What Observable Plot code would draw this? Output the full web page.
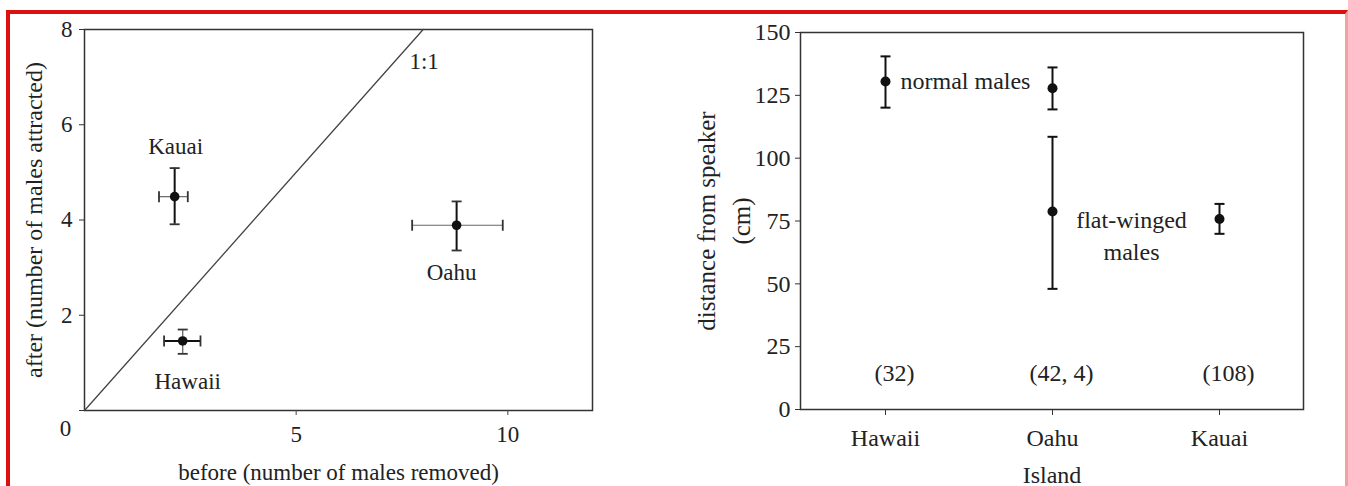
<!DOCTYPE html>
<html><head><meta charset="utf-8">
<script src="https://cdn.jsdelivr.net/npm/d3@7"></script>
<script src="https://cdn.jsdelivr.net/npm/@observablehq/plot@0.6"></script>
<style>
html,body{margin:0;padding:0;background:#fff;width:1348px;height:486px;overflow:hidden;}
#border{position:absolute;left:6px;top:10px;width:1342px;height:490px;border-top:4px solid #dd1010;border-left:4px solid #dd1010;border-right:3px solid #f2a0a0;box-sizing:border-box;}
#left{position:absolute;left:0;top:0;}
#right{position:absolute;left:660px;top:0;}
svg, svg text { font-family: "Liberation Serif", "Times New Roman", "DejaVu Serif", serif !important; }
</style></head><body>
<div id="border"></div><div id="left"></div><div id="right"></div>
<script>
// ---- Left panel: before vs after ----
const islandsA = ["Kauai", "Hawaii", "Oahu"];
const beforeMean = [2.13, 2.32, 8.79];
const beforeLo = [1.76, 1.88, 7.74];
const beforeHi = [2.44, 2.74, 9.88];
const afterMean = [4.49, 1.46, 3.89];
const afterLo = [3.91, 1.19, 3.36];
const afterHi = [5.09, 1.70, 4.39];
const identityLine = [0, 8];
const identityLabel = "1:1";
const xTicksA = [5, 10];
const yTicksA = [0, 2, 4, 6, 8];
const xLabelA = "before (number of males removed)";
const yLabelA = "after (number of males attracted)";

// ---- Right panel: distance from speaker ----
const islandsB = ["Hawaii", "Oahu", "Kauai"];
const groupB = ["normal males", "normal males", "flat-winged males", "flat-winged males"];
const islandB = ["Hawaii", "Oahu", "Oahu", "Kauai"];
const distMean = [130.5, 127.8, 78.8, 75.8];
const distLo = [120.1, 119.4, 48.0, 69.9];
const distHi = [140.5, 136.1, 108.5, 81.8];
const sampleSizes = ["(32)", "(42, 4)", "(108)"];
const yTicksB = [0, 25, 50, 75, 100, 125, 150];
const xLabelB = "Island";
const yLabelB = "distance from speaker\n(cm)";

const FONT = "Liberation Serif, Times New Roman, serif";
const INK = "#222";
const styleA = {fontFamily: FONT, fontSize: "23px", color: INK, background: "transparent", overflow: "visible"};
const styleB = {fontFamily: FONT, fontSize: "24px", color: INK, background: "transparent", overflow: "visible"};

const capV = {draw(ctx, size) { const r = Math.sqrt(size / Math.PI); ctx.moveTo(0, -r); ctx.lineTo(0, r); }};
const capH = {draw(ctx, size) { const r = Math.sqrt(size / Math.PI); ctx.moveTo(-r, 0); ctx.lineTo(r, 0); }};

const rowsA = islandsA.map((k, i) => ({island: k, x: beforeMean[i], x1: beforeLo[i], x2: beforeHi[i], y: afterMean[i], y1: afterLo[i], y2: afterHi[i]}));
const thickH = d => d.island === "Hawaii";

const left = Plot.plot({
  width: 660, height: 486,
  marginLeft: 84, marginRight: 68, marginTop: 29, marginBottom: 76,
  style: styleA,
  x: {domain: [0, 12]},
  y: {domain: [0, 8]},
  marks: [
    Plot.frame({stroke: "#333", strokeWidth: 1.5}),
    Plot.axisX({ticks: xTicksA, tickSize: 5, tickPadding: 10, label: null, stroke: "#444"}),
    Plot.axisY({ticks: yTicksA, tickSize: 5, tickPadding: 7, label: null, stroke: "#333", tickFormat: d => d === 0 ? "" : String(d)}),
    Plot.text([yTicksA[0]], {x: d => d, y: d => d, text: d => String(d), dx: -19, dy: 18, fill: INK}),
    Plot.line(identityLine, {x: d => d, y: d => d, stroke: "#444", strokeWidth: 1.3}),
    Plot.text([identityLine[1]], {x: d => d, y: d => d, text: () => identityLabel, dx: 1, dy: 32, fill: INK}),
    // horizontal error bars
    Plot.ruleY(rowsA, {filter: d => !thickH(d), y: "y", x1: "x1", x2: "x2", stroke: "#666", strokeWidth: 1.2}),
    Plot.ruleY(rowsA, {filter: thickH, y: "y", x1: "x1", x2: "x2", stroke: "#111", strokeWidth: 2}),
    Plot.dot(rowsA, {x: "x1", y: "y", symbol: capV, r: 5.5, stroke: "#333", strokeWidth: 1.8, fill: "none"}),
    Plot.dot(rowsA, {x: "x2", y: "y", symbol: capV, r: 5.5, stroke: "#333", strokeWidth: 1.8, fill: "none"}),
    // vertical error bars
    Plot.ruleX(rowsA, {filter: d => !thickH(d), x: "x", y1: "y1", y2: "y2", stroke: "#111", strokeWidth: 2}),
    Plot.ruleX(rowsA, {filter: thickH, x: "x", y1: "y1", y2: "y2", stroke: "#666", strokeWidth: 1.3}),
    Plot.dot(rowsA, {x: "x", y: "y1", symbol: capH, r: 5, stroke: "#333", strokeWidth: 1.8, fill: "none"}),
    Plot.dot(rowsA, {x: "x", y: "y2", symbol: capH, r: 5, stroke: "#333", strokeWidth: 1.8, fill: "none"}),
    Plot.dot(rowsA, {x: "x", y: "y", r: 4.8, fill: "#111", stroke: "none"}),
    Plot.text(rowsA, {filter: d => d.island === "Kauai", x: "x", y: "y", text: "island", dx: 1, dy: -50, fill: INK}),
    Plot.text(rowsA, {filter: d => d.island === "Hawaii", x: "x", y: "y", text: "island", dx: 5, dy: 41, fill: INK}),
    Plot.text(rowsA, {filter: d => d.island === "Oahu", x: "x", y: "y", text: "island", dx: -5, dy: 47, fill: INK}),
    Plot.text([xLabelA], {frameAnchor: "bottom", text: d => d, dy: 62, textAnchor: "middle", lineAnchor: "middle", fill: INK}),
    Plot.text([yLabelA], {frameAnchor: "left", text: d => d, dx: -50, rotate: -90, fontSize: 24, textAnchor: "middle", lineAnchor: "middle", fill: INK})
  ]
});
document.getElementById("left").appendChild(left);

const rowsB = groupB.map((g, i) => ({group: g, island: islandB[i], mean: distMean[i], lo: distLo[i], hi: distHi[i]}));

const right = Plot.plot({
  width: 688, height: 486,
  marginLeft: 140, marginRight: 45, marginTop: 32, marginBottom: 77,
  style: styleB,
  x: {type: "point", domain: islandsB, padding: 0.5},
  y: {domain: [0, 150]},
  marks: [
    Plot.frame({stroke: "#333", strokeWidth: 1.5}),
    Plot.axisX({tickSize: 6, tickPadding: 13, label: null, stroke: "#333"}),
    Plot.axisY({ticks: yTicksB, tickSize: 5, tickPadding: 5, label: null, stroke: "#333"}),
    Plot.ruleX(rowsB, {x: "island", y1: "lo", y2: "hi", stroke: "#111", strokeWidth: 2}),
    Plot.dot(rowsB, {x: "island", y: "lo", symbol: capH, r: 5, stroke: "#111", strokeWidth: 2, fill: "none"}),
    Plot.dot(rowsB, {x: "island", y: "hi", symbol: capH, r: 5, stroke: "#111", strokeWidth: 2, fill: "none"}),
    Plot.dot(rowsB, {x: "island", y: "mean", r: 5, fill: "#111", stroke: "none"}),
    Plot.text(rowsB, {filter: d => d.island === "Hawaii" && d.group === "normal males", x: "island", y: "mean", text: "group", textAnchor: "start", dx: 15, fill: INK}),
    Plot.text(rowsB, {filter: d => d.island === "Oahu" && d.group === "flat-winged males", x: "island", y: "mean", text: d => d.group.replace(" ", "\n"), dx: 79, dy: 22, lineHeight: 1.35, fill: INK}),
    Plot.text(islandsB, {x: d => d, text: (d, i) => sampleSizes[i], frameAnchor: "bottom", lineAnchor: "middle", textAnchor: "middle", dx: 9, dy: -36, fill: INK}),
    Plot.text([xLabelB], {frameAnchor: "bottom", text: d => d, dy: 66, textAnchor: "middle", lineAnchor: "middle", fill: INK}),
    Plot.text([yLabelB], {frameAnchor: "left", text: d => d, dx: -79, rotate: -90, fontSize: 25, lineHeight: 1.4, textAnchor: "middle", lineAnchor: "middle", fill: INK})
  ]
});
document.getElementById("right").appendChild(right);
</script>
</body></html>
